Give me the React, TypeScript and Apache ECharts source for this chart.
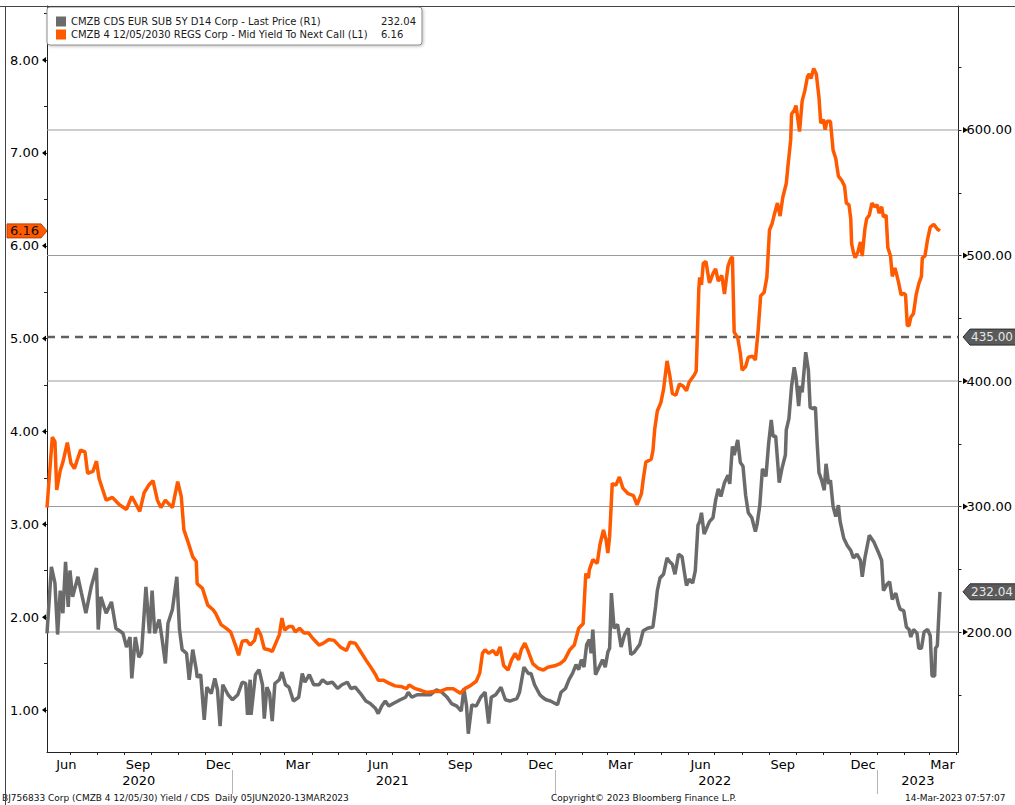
import React, { useEffect, useRef } from "react";
import * as echarts from "echarts";

const FONT = "'DejaVu Sans', Verdana, sans-serif";

const cdsName = "CMZB CDS EUR SUB 5Y D14 Corp - Last Price (R1)";
const yieldName = "CMZB 4 12/05/2030 REGS Corp - Mid Yield To Next Call (L1)";
const lastCds = 232.04;
const lastYield = 6.16;
const refLevel = 435;

const leftLabels = [1, 2, 3, 4, 5, 6, 7, 8];
const leftMinorTicks = [1, 1.5, 2, 2.5, 3, 3.5, 4, 4.5, 5, 5.5, 6, 6.5, 7, 7.5, 8, 8.5];
const rightLabels = [200, 300, 400, 500, 600];
const rightMinorTicks = [150, 200, 250, 300, 350, 400, 450, 500, 550, 600, 650];
const gridValues = [200, 300, 400, 500, 600];

const monthLabelDates = [
  "2020-06-27", "2020-09-16", "2020-12-16", "2021-03-16", "2021-06-15", "2021-09-16",
  "2021-12-16", "2022-03-16", "2022-06-15", "2022-09-16", "2022-12-16", "2023-03-16",
];
const yearLabels: Record<string, string> = {
  "2020-09-17": "2020",
  "2021-07-01": "2021",
  "2022-07-01": "2022",
  "2023-02-16": "2023",
};
const monthNames = ["Jan", "Feb", "Mar", "Apr", "May", "Jun", "Jul", "Aug", "Sep", "Oct", "Nov", "Dec"];

// CMZB 4 12/05/2030 mid yield to next call (left axis)
const yieldData: [string, number][] = [
  ["2020-06-05", 3.18], ["2020-06-11", 3.94], ["2020-06-14", 3.89], ["2020-06-16", 3.37], ["2020-06-20", 3.58],
  ["2020-06-23", 3.67], ["2020-06-28", 3.88], ["2020-07-02", 3.66], ["2020-07-06", 3.6], ["2020-07-13", 3.8],
  ["2020-07-18", 3.78], ["2020-07-21", 3.55], ["2020-07-27", 3.57], ["2020-07-31", 3.68], ["2020-08-03", 3.49],
  ["2020-08-11", 3.26], ["2020-08-18", 3.29], ["2020-08-26", 3.21], ["2020-09-03", 3.16], ["2020-09-09", 3.3],
  ["2020-09-18", 3.14], ["2020-09-23", 3.34], ["2020-09-28", 3.42], ["2020-10-03", 3.47], ["2020-10-08", 3.26],
  ["2020-10-12", 3.18], ["2020-10-17", 3.26], ["2020-10-25", 3.18], ["2020-10-31", 3.46], ["2020-11-04", 3.3],
  ["2020-11-07", 2.94], ["2020-11-12", 2.8], ["2020-11-17", 2.65], ["2020-11-21", 2.6], ["2020-11-22", 2.36],
  ["2020-11-28", 2.31], ["2020-12-04", 2.13], ["2020-12-10", 2.08], ["2020-12-13", 2.04], ["2020-12-19", 1.92],
  ["2020-12-25", 1.88], ["2020-12-30", 1.84], ["2021-01-05", 1.68], ["2021-01-08", 1.59], ["2021-01-12", 1.74],
  ["2021-01-17", 1.75], ["2021-01-21", 1.7], ["2021-01-26", 1.75], ["2021-01-29", 1.88], ["2021-02-02", 1.81],
  ["2021-02-06", 1.66], ["2021-02-11", 1.65], ["2021-02-15", 1.63], ["2021-02-19", 1.72], ["2021-02-23", 1.81],
  ["2021-02-26", 1.99], ["2021-03-01", 1.86], ["2021-03-06", 1.9], ["2021-03-10", 1.9], ["2021-03-13", 1.84],
  ["2021-03-18", 1.88], ["2021-03-23", 1.83], ["2021-03-28", 1.83], ["2021-04-02", 1.77], ["2021-04-09", 1.7],
  ["2021-04-14", 1.72], ["2021-04-20", 1.76], ["2021-04-26", 1.75], ["2021-05-03", 1.68], ["2021-05-10", 1.64],
  ["2021-05-14", 1.73], ["2021-05-20", 1.72], ["2021-05-26", 1.63], ["2021-06-01", 1.54], ["2021-06-06", 1.47],
  ["2021-06-12", 1.38], ["2021-06-15", 1.32], ["2021-06-21", 1.32], ["2021-06-27", 1.29], ["2021-07-04", 1.26],
  ["2021-07-12", 1.25], ["2021-07-17", 1.23], ["2021-07-20", 1.27], ["2021-07-27", 1.23], ["2021-08-03", 1.21],
  ["2021-08-09", 1.19], ["2021-08-17", 1.2], ["2021-08-24", 1.2], ["2021-09-01", 1.23], ["2021-09-08", 1.23],
  ["2021-09-16", 1.18], ["2021-09-21", 1.23], ["2021-09-27", 1.26], ["2021-10-04", 1.31], ["2021-10-08", 1.4],
  ["2021-10-11", 1.61], ["2021-10-14", 1.65], ["2021-10-18", 1.61], ["2021-10-23", 1.64], ["2021-10-27", 1.59],
  ["2021-10-31", 1.68], ["2021-11-04", 1.48], ["2021-11-09", 1.43], ["2021-11-13", 1.54], ["2021-11-17", 1.61],
  ["2021-11-21", 1.54], ["2021-11-24", 1.65], ["2021-11-28", 1.72], ["2021-12-02", 1.63], ["2021-12-07", 1.5],
  ["2021-12-13", 1.45], ["2021-12-19", 1.43], ["2021-12-24", 1.46], ["2022-01-02", 1.48], ["2022-01-07", 1.5],
  ["2022-01-12", 1.54], ["2022-01-18", 1.65], ["2022-01-23", 1.7], ["2022-01-28", 1.88], ["2022-02-02", 1.93],
  ["2022-02-05", 2.47], ["2022-02-08", 2.42], ["2022-02-09", 2.51], ["2022-02-13", 2.62], ["2022-02-18", 2.58],
  ["2022-02-21", 2.78], ["2022-02-25", 2.94], ["2022-02-28", 2.83], ["2022-03-02", 2.69], ["2022-03-04", 2.87],
  ["2022-03-07", 3.44], ["2022-03-11", 3.42], ["2022-03-15", 3.51], ["2022-03-19", 3.39], ["2022-03-25", 3.33],
  ["2022-03-31", 3.31], ["2022-04-04", 3.21], ["2022-04-09", 3.33], ["2022-04-11", 3.48], ["2022-04-14", 3.67],
  ["2022-04-20", 3.7], ["2022-04-22", 3.79], ["2022-04-24", 4.02], ["2022-04-27", 4.22], ["2022-05-01", 4.31],
  ["2022-05-04", 4.45], ["2022-05-08", 4.76], ["2022-05-11", 4.61], ["2022-05-14", 4.41], ["2022-05-18", 4.39],
  ["2022-05-22", 4.51], ["2022-05-26", 4.49], ["2022-05-30", 4.44], ["2022-06-02", 4.53], ["2022-06-08", 4.61],
  ["2022-06-10", 4.65], ["2022-06-13", 5.54], ["2022-06-14", 5.66], ["2022-06-16", 5.58], ["2022-06-18", 5.81],
  ["2022-06-21", 5.83], ["2022-06-25", 5.6], ["2022-06-29", 5.7], ["2022-07-02", 5.75], ["2022-07-05", 5.62],
  ["2022-07-09", 5.68], ["2022-07-12", 5.48], ["2022-07-16", 5.78], ["2022-07-19", 5.86], ["2022-07-21", 5.88],
  ["2022-07-23", 5.07], ["2022-07-27", 5.01], ["2022-07-30", 4.84], ["2022-08-01", 4.66], ["2022-08-05", 4.7],
  ["2022-08-08", 4.8], ["2022-08-13", 4.81], ["2022-08-16", 4.77], ["2022-08-19", 5.07], ["2022-08-22", 5.46],
  ["2022-08-26", 5.5], ["2022-08-29", 5.66], ["2022-09-01", 6.17], ["2022-09-04", 6.24], ["2022-09-06", 6.32],
  ["2022-09-10", 6.46], ["2022-09-13", 6.32], ["2022-09-16", 6.52], ["2022-09-20", 6.67], ["2022-09-22", 6.87],
  ["2022-09-25", 7.14], ["2022-09-26", 7.42], ["2022-09-29", 7.46], ["2022-10-01", 7.51], ["2022-10-05", 7.23],
  ["2022-10-08", 7.56], ["2022-10-11", 7.67], ["2022-10-14", 7.82], ["2022-10-16", 7.85], ["2022-10-18", 7.8],
  ["2022-10-21", 7.91], ["2022-10-24", 7.85], ["2022-10-27", 7.6], ["2022-10-29", 7.32], ["2022-11-01", 7.36],
  ["2022-11-03", 7.25], ["2022-11-05", 7.34], ["2022-11-09", 7.34], ["2022-11-12", 7.03], ["2022-11-15", 6.94],
  ["2022-11-18", 6.75], ["2022-11-22", 6.7], ["2022-11-25", 6.64], ["2022-11-27", 6.46], ["2022-11-30", 6.44],
  ["2022-12-02", 6.29], ["2022-12-03", 6.02], ["2022-12-05", 5.93], ["2022-12-07", 5.87], ["2022-12-10", 5.93],
  ["2022-12-13", 6.04], ["2022-12-15", 5.89], ["2022-12-18", 6.18], ["2022-12-20", 6.29], ["2022-12-23", 6.33],
  ["2022-12-26", 6.46], ["2022-12-29", 6.42], ["2023-01-01", 6.44], ["2023-01-03", 6.35], ["2023-01-06", 6.42],
  ["2023-01-08", 6.31], ["2023-01-11", 6.33], ["2023-01-13", 5.98], ["2023-01-16", 5.89], ["2023-01-18", 5.67],
  ["2023-01-21", 5.76], ["2023-01-23", 5.69], ["2023-01-25", 5.61], ["2023-01-28", 5.47], ["2023-01-31", 5.49],
  ["2023-02-02", 5.47], ["2023-02-04", 5.14], ["2023-02-06", 5.14], ["2023-02-08", 5.23], ["2023-02-11", 5.27],
  ["2023-02-14", 5.47], ["2023-02-17", 5.59], ["2023-02-20", 5.67], ["2023-02-21", 5.87], ["2023-02-24", 5.89],
  ["2023-02-27", 6.07], ["2023-03-02", 6.2], ["2023-03-06", 6.23], ["2023-03-10", 6.18], ["2023-03-13", 6.16],
];

// CMZB CDS EUR SUB 5Y (right axis)
const cdsData: [string, number][] = [
  ["2020-06-05", 199], ["2020-06-10", 252], ["2020-06-14", 239], ["2020-06-17", 198], ["2020-06-20", 233],
  ["2020-06-23", 215], ["2020-06-26", 256], ["2020-06-29", 220], ["2020-07-01", 249], ["2020-07-04", 228],
  ["2020-07-10", 244], ["2020-07-14", 231], ["2020-07-19", 215], ["2020-07-25", 236], ["2020-07-31", 251],
  ["2020-08-02", 202], ["2020-08-05", 228], ["2020-08-11", 215], ["2020-08-17", 224], ["2020-08-22", 203],
  ["2020-08-30", 199], ["2020-09-03", 188], ["2020-09-07", 196], ["2020-09-09", 163], ["2020-09-13", 196],
  ["2020-09-17", 180], ["2020-09-20", 183], ["2020-09-25", 236], ["2020-09-29", 199], ["2020-10-02", 233],
  ["2020-10-05", 199], ["2020-10-10", 210], ["2020-10-13", 196], ["2020-10-17", 175], ["2020-10-20", 207],
  ["2020-10-25", 218], ["2020-10-30", 244], ["2020-11-02", 202], ["2020-11-05", 186], ["2020-11-10", 183],
  ["2020-11-13", 162], ["2020-11-17", 186], ["2020-11-21", 170], ["2020-11-22", 164], ["2020-11-26", 166],
  ["2020-11-30", 130], ["2020-12-03", 156], ["2020-12-08", 151], ["2020-12-12", 163], ["2020-12-15", 154],
  ["2020-12-18", 125], ["2020-12-21", 158], ["2020-12-27", 150], ["2021-01-01", 146], ["2021-01-07", 150],
  ["2021-01-12", 160], ["2021-01-16", 159], ["2021-01-18", 134], ["2021-01-21", 162], ["2021-01-22", 134],
  ["2021-01-27", 166], ["2021-01-31", 170], ["2021-02-04", 158], ["2021-02-06", 131], ["2021-02-09", 156],
  ["2021-02-12", 151], ["2021-02-15", 129], ["2021-02-18", 159], ["2021-02-23", 162], ["2021-02-26", 168],
  ["2021-03-02", 158], ["2021-03-06", 156], ["2021-03-11", 145], ["2021-03-17", 148], ["2021-03-21", 167],
  ["2021-03-24", 160], ["2021-03-29", 166], ["2021-04-03", 158], ["2021-04-09", 158], ["2021-04-13", 162],
  ["2021-04-18", 159], ["2021-04-24", 160], ["2021-04-30", 155], ["2021-05-05", 158], ["2021-05-11", 160],
  ["2021-05-15", 155], ["2021-05-20", 156], ["2021-05-26", 151], ["2021-06-01", 145], ["2021-06-06", 143],
  ["2021-06-12", 139], ["2021-06-15", 135], ["2021-06-19", 141], ["2021-06-23", 145], ["2021-06-27", 141],
  ["2021-07-02", 143], ["2021-07-10", 146], ["2021-07-16", 148], ["2021-07-19", 152], ["2021-07-23", 148],
  ["2021-07-29", 150], ["2021-08-05", 150], ["2021-08-13", 150], ["2021-08-20", 154], ["2021-08-26", 152],
  ["2021-09-01", 148], ["2021-09-06", 143], ["2021-09-12", 141], ["2021-09-17", 137], ["2021-09-20", 155],
  ["2021-09-23", 141], ["2021-09-25", 119], ["2021-09-29", 142], ["2021-10-04", 141], ["2021-10-09", 148],
  ["2021-10-14", 152], ["2021-10-18", 127], ["2021-10-21", 148], ["2021-10-26", 150], ["2021-11-01", 156],
  ["2021-11-06", 146], ["2021-11-11", 145], ["2021-11-19", 147], ["2021-11-22", 152], ["2021-11-27", 172],
  ["2021-12-02", 167], ["2021-12-05", 167], ["2021-12-09", 158], ["2021-12-15", 150], ["2021-12-18", 148],
  ["2021-12-22", 146], ["2021-12-27", 145], ["2022-01-04", 142], ["2022-01-08", 152], ["2022-01-13", 155],
  ["2022-01-17", 162], ["2022-01-21", 167], ["2022-01-25", 174], ["2022-01-28", 170], ["2022-01-31", 178],
  ["2022-02-03", 172], ["2022-02-06", 190], ["2022-02-09", 194], ["2022-02-11", 183], ["2022-02-13", 202],
  ["2022-02-16", 166], ["2022-02-20", 172], ["2022-02-24", 178], ["2022-02-27", 172], ["2022-03-02", 184],
  ["2022-03-04", 187], ["2022-03-06", 231], ["2022-03-09", 203], ["2022-03-13", 206], ["2022-03-17", 188],
  ["2022-03-21", 198], ["2022-03-25", 203], ["2022-03-28", 182], ["2022-04-01", 184], ["2022-04-07", 190],
  ["2022-04-11", 201], ["2022-04-16", 203], ["2022-04-22", 204], ["2022-04-25", 220], ["2022-04-27", 233],
  ["2022-04-30", 243], ["2022-05-04", 246], ["2022-05-08", 259], ["2022-05-11", 256], ["2022-05-14", 254],
  ["2022-05-17", 246], ["2022-05-21", 262], ["2022-05-25", 260], ["2022-05-28", 246], ["2022-05-30", 237],
  ["2022-06-02", 242], ["2022-06-06", 239], ["2022-06-09", 249], ["2022-06-12", 285], ["2022-06-14", 288],
  ["2022-06-16", 295], ["2022-06-19", 278], ["2022-06-22", 283], ["2022-06-25", 288], ["2022-06-29", 291],
  ["2022-07-02", 305], ["2022-07-05", 314], ["2022-07-08", 308], ["2022-07-12", 319], ["2022-07-16", 325],
  ["2022-07-18", 318], ["2022-07-21", 348], ["2022-07-23", 341], ["2022-07-27", 353], ["2022-07-30", 335],
  ["2022-08-02", 332], ["2022-08-05", 309], ["2022-08-08", 295], ["2022-08-12", 291], ["2022-08-16", 280],
  ["2022-08-18", 286], ["2022-08-21", 301], ["2022-08-24", 330], ["2022-08-28", 324], ["2022-08-31", 350],
  ["2022-09-03", 369], ["2022-09-05", 356], ["2022-09-08", 356], ["2022-09-12", 319], ["2022-09-15", 330],
  ["2022-09-19", 341], ["2022-09-20", 361], ["2022-09-23", 370], ["2022-09-26", 396], ["2022-09-29", 411],
  ["2022-10-01", 403], ["2022-10-04", 380], ["2022-10-06", 396], ["2022-10-08", 391], ["2022-10-12", 423],
  ["2022-10-15", 409], ["2022-10-17", 379], ["2022-10-20", 378], ["2022-10-23", 379], ["2022-10-25", 350],
  ["2022-10-27", 327], ["2022-10-30", 321], ["2022-11-02", 313], ["2022-11-04", 334], ["2022-11-07", 318],
  ["2022-11-09", 321], ["2022-11-12", 300], ["2022-11-15", 292], ["2022-11-18", 301], ["2022-11-20", 288],
  ["2022-11-24", 275], ["2022-11-28", 269], ["2022-12-02", 265], ["2022-12-05", 259], ["2022-12-09", 262],
  ["2022-12-13", 257], ["2022-12-15", 244], ["2022-12-18", 259], ["2022-12-23", 277], ["2022-12-28", 272],
  ["2023-01-02", 264], ["2023-01-06", 257], ["2023-01-08", 233], ["2023-01-12", 238], ["2023-01-15", 240],
  ["2023-01-18", 226], ["2023-01-22", 231], ["2023-01-25", 222], ["2023-01-27", 218], ["2023-01-31", 217],
  ["2023-02-03", 204], ["2023-02-06", 202], ["2023-02-08", 196], ["2023-02-11", 202], ["2023-02-15", 199],
  ["2023-02-17", 187], ["2023-02-20", 187], ["2023-02-23", 200], ["2023-02-27", 202], ["2023-03-02", 197],
  ["2023-03-04", 165], ["2023-03-07", 165], ["2023-03-08", 187], ["2023-03-10", 189], ["2023-03-13", 232.04],
];

function buildDays(): string[] {
  const out: string[] = [];
  let t = Date.UTC(2020, 5, 5);
  const end = Date.UTC(2023, 3, 3);
  while (t <= end) {
    out.push(new Date(t).toISOString().slice(0, 10));
    t += 86400000;
  }
  return out;
}

export default function App() {
  const ref = useRef<HTMLDivElement>(null);

  useEffect(() => {
    if (!ref.current) return;
    const chart = echarts.init(ref.current, null, { renderer: "svg" });
    const days = buildDays();
    const first = days[0];
    const last = days[days.length - 1];

    const gridSeries = gridValues.map((v) => ({
      type: "line",
      yAxisIndex: 1,
      data: [[first, v], [last, v]],
      symbol: "none",
      silent: true,
      z: 1,
      lineStyle: { color: "#9a9a9a", width: 1 },
    }));

    chart.setOption({
      animation: false,
      backgroundColor: "#ffffff",
      grid: { left: 47, right: 53, top: 6, bottom: 53 },
      legend: {
        data: [cdsName, yieldName],
        orient: "vertical",
        left: 47,
        top: 7,
        itemWidth: 10,
        itemHeight: 10,
        itemGap: 0,
        icon: "rect",
        padding: [8, 6, 4, 9],
        backgroundColor: "#ffffff",
        borderColor: "#8c8c8c",
        borderWidth: 1,
        borderRadius: 3,
        shadowColor: "rgba(0,0,0,0.25)",
        shadowBlur: 3,
        shadowOffsetX: 1,
        shadowOffsetY: 1,
        textStyle: {
          fontFamily: FONT,
          fontSize: 10,
          lineHeight: 13,
          color: "#1a1a1a",
          rich: {
            n: { width: 310, fontFamily: FONT, fontSize: 10, color: "#1a1a1a", lineHeight: 13 },
            v: { fontFamily: FONT, fontSize: 10, color: "#1a1a1a", lineHeight: 13 },
          },
        },
        formatter: (name: string) =>
          `{n|${name}}{v|${name === cdsName ? lastCds.toFixed(2) : lastYield.toFixed(2)}}`,
      },
      xAxis: [
        {
          type: "category",
          data: days,
          boundaryGap: false,
          position: "bottom",
          axisLine: { show: true, lineStyle: { color: "#222", width: 1 } },
          axisTick: {
            show: true,
            length: 3,
            interval: (_i: number, v: string) => v.endsWith("-01"),
            lineStyle: { color: "#222" },
          },
          axisLabel: {
            interval: (_i: number, v: string) => monthLabelDates.includes(v),
            formatter: (v: string) => monthNames[parseInt(v.slice(5, 7), 10) - 1],
            fontFamily: FONT,
            fontSize: 13,
            color: "#000",
            margin: 6,
          },
          splitLine: { show: false },
        },
        {
          type: "category",
          data: days,
          boundaryGap: false,
          position: "bottom",
          offset: 18,
          axisLine: { show: false },
          axisTick: {
            show: true,
            length: 24,
            interval: (_i: number, v: string) => v.endsWith("-01-01"),
            lineStyle: { color: "#b5b5b5" },
          },
          axisLabel: {
            interval: (_i: number, v: string) => v in yearLabels,
            formatter: (v: string) => yearLabels[v] || "",
            fontFamily: FONT,
            fontSize: 13,
            color: "#000",
            margin: 4,
          },
          splitLine: { show: false },
        },
      ],
      yAxis: [
        {
          type: "value",
          position: "left",
          min: 0.548,
          max: 8.582,
          axisLine: { show: true, lineStyle: { color: "#222" } },
          axisTick: { show: true, length: 3, customValues: leftMinorTicks, lineStyle: { color: "#222" } },
          axisLabel: {
            customValues: leftLabels,
            formatter: (v: number) => v.toFixed(2),
            fontFamily: FONT,
            fontSize: 13,
            color: "#000",
            margin: 8,
          },
          splitLine: { show: false },
        },
        {
          type: "value",
          position: "right",
          min: 104.4,
          max: 698.8,
          axisLine: { show: true, lineStyle: { color: "#222" } },
          axisTick: { show: true, length: 3, customValues: rightMinorTicks, lineStyle: { color: "#222" } },
          axisLabel: {
            customValues: rightLabels,
            formatter: (v: number) => v.toFixed(2),
            fontFamily: FONT,
            fontSize: 13,
            color: "#000",
            margin: 8,
          },
          splitLine: { show: false },
        },
      ],
      series: [
        ...gridSeries,
        {
          type: "line",
          yAxisIndex: 1,
          data: [[first, refLevel], [last, refLevel]],
          symbol: "none",
          silent: true,
          z: 1,
          lineStyle: { color: "#5f5f5f", width: 2.5, type: [8, 6] },
        },
        {
          name: cdsName,
          type: "line",
          yAxisIndex: 1,
          data: cdsData,
          symbol: "none",
          z: 3,
          itemStyle: { color: "#6b6b6b" },
          lineStyle: { color: "#6b6b6b", width: 3.5 },
        },
        {
          name: yieldName,
          type: "line",
          yAxisIndex: 0,
          data: yieldData,
          symbol: "none",
          z: 4,
          itemStyle: { color: "#ff5a00" },
          lineStyle: { color: "#ff5a00", width: 3.5 },
        },
      ],
    });

    const yL = (v: number) => chart.convertToPixel({ yAxisIndex: 0 }, v) as number;
    const yR = (v: number) => chart.convertToPixel({ yAxisIndex: 1 }, v) as number;
    const graphics: any[] = [];

    leftLabels.forEach((v) => {
      const y = yL(v);
      graphics.push({ type: "polygon", shape: { points: [[42, y], [46, y - 3], [46, y + 3]] }, style: { fill: "#000" }, z: 10 });
    });
    rightLabels.forEach((v) => {
      const y = yR(v);
      graphics.push({ type: "polygon", shape: { points: [[968, y], [963, y - 3], [963, y + 3]] }, style: { fill: "#000" }, z: 10 });
    });

    const yTag = yL(lastYield);
    graphics.push({
      type: "polygon",
      shape: { points: [[7, yTag - 7], [41, yTag - 7], [47, yTag], [41, yTag + 7], [7, yTag + 7]] },
      style: { fill: "#ff5a00", stroke: "#b94000", lineWidth: 1 },
      z: 20,
    });
    graphics.push({
      type: "text",
      x: 10,
      y: yTag,
      style: { text: lastYield.toFixed(2), fontFamily: FONT, fontSize: 13, fill: "#111", verticalAlign: "middle" },
      z: 21,
    });

    [refLevel, lastCds].forEach((v) => {
      const y = yR(v);
      graphics.push({
        type: "polygon",
        shape: { points: [[963, y], [970, y - 8], [1020, y - 8], [1020, y + 8], [970, y + 8]] },
        style: { fill: "#5a5a5a", stroke: "#2e2e2e", lineWidth: 1 },
        z: 20,
      });
      graphics.push({
        type: "text",
        x: 971,
        y: y,
        style: { text: v.toFixed(2), fontFamily: FONT, fontSize: 12, fill: "#e6e6e6", verticalAlign: "middle" },
        z: 21,
      });
    });

    // frame
    graphics.push({ type: "line", shape: { x1: 0, y1: 6.5, x2: 1015, y2: 6.5 }, style: { stroke: "#444", lineWidth: 1 }, z: 5 });
    graphics.push({ type: "line", shape: { x1: 5.5, y1: 6, x2: 5.5, y2: 805 }, style: { stroke: "#444", lineWidth: 1 }, z: 5 });

    // footer
    const footStyle = { fontFamily: FONT, fontSize: 9, fill: "#111", verticalAlign: "middle" };
    graphics.push({ type: "text", x: 2, y: 798, style: { ...footStyle, text: "BJ756833 Corp (CMZB 4 12/05/30) Yield / CDS  Daily 05JUN2020-13MAR2023" } });
    graphics.push({ type: "text", x: 551, y: 798, style: { ...footStyle, text: "Copyright\u00a9 2023 Bloomberg Finance L.P." } });
    graphics.push({ type: "text", x: 905, y: 798, style: { ...footStyle, text: "14-Mar-2023 07:57:07" } });

    chart.setOption({ graphic: graphics });

    return () => chart.dispose();
  }, []);

  return (
    <div
      ref={ref}
      style={{ position: "absolute", left: 0, top: 0, width: 1015, height: 805 }}
    />
  );
}
